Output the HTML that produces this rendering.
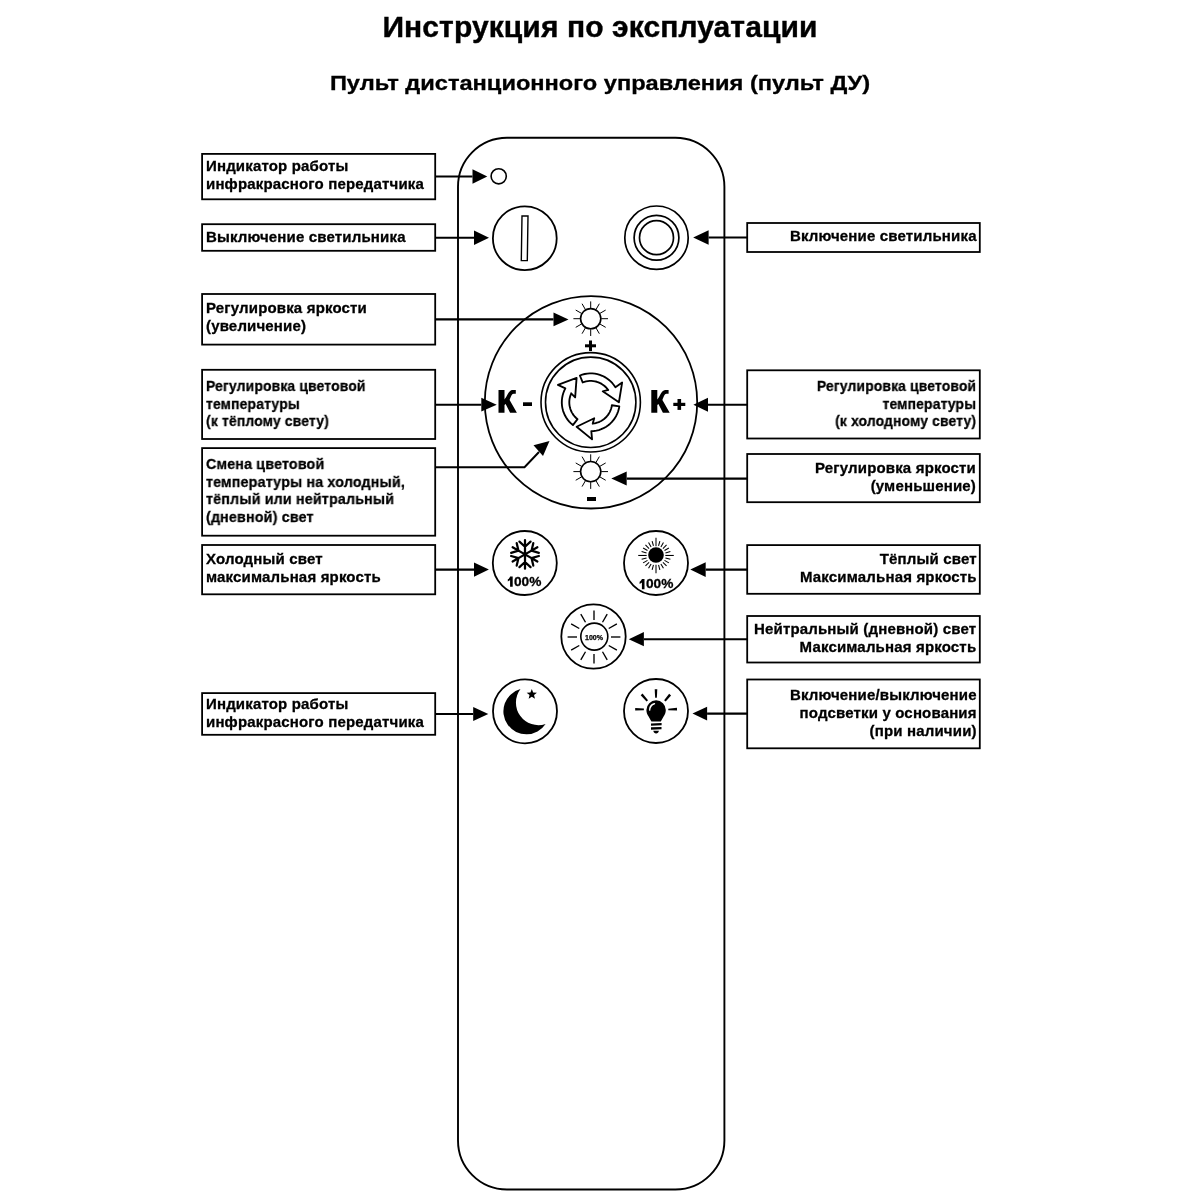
<!DOCTYPE html>
<html><head><meta charset="utf-8"><style>
html,body{margin:0;padding:0;background:#fff;width:1200px;height:1200px;overflow:hidden}
.t{position:absolute;will-change:transform;font-family:"Liberation Sans",sans-serif;font-weight:bold;color:#000;white-space:nowrap}
.c{left:0;width:1200px;text-align:center}
svg{position:absolute;left:0;top:0}
</style></head><body>
<svg width="1200" height="1200" viewBox="0 0 1200 1200">
<rect x="458" y="137.8" width="266.4" height="1051.7" rx="49" ry="49" stroke="#000" fill="none" stroke-width="1.9"/>
<rect x="202.1" y="153.9" width="233.1" height="45.40" stroke="#000" fill="none" stroke-width="1.8"/>
<rect x="202.1" y="224.2" width="233.1" height="26.60" stroke="#000" fill="none" stroke-width="1.8"/>
<rect x="202.1" y="294.0" width="233.1" height="50.60" stroke="#000" fill="none" stroke-width="1.8"/>
<rect x="202.1" y="369.8" width="233.1" height="69.20" stroke="#000" fill="none" stroke-width="1.8"/>
<rect x="202.1" y="448.1" width="233.1" height="87.60" stroke="#000" fill="none" stroke-width="1.8"/>
<rect x="202.1" y="545.0" width="233.1" height="49.30" stroke="#000" fill="none" stroke-width="1.8"/>
<rect x="202.1" y="693.1" width="233.1" height="41.70" stroke="#000" fill="none" stroke-width="1.8"/>
<rect x="747.2" y="223.0" width="232.6" height="29.00" stroke="#000" fill="none" stroke-width="1.8"/>
<rect x="747.2" y="370.3" width="232.6" height="68.20" stroke="#000" fill="none" stroke-width="1.8"/>
<rect x="747.2" y="454.0" width="232.6" height="48.20" stroke="#000" fill="none" stroke-width="1.8"/>
<rect x="747.2" y="545.1" width="232.6" height="48.70" stroke="#000" fill="none" stroke-width="1.8"/>
<rect x="747.2" y="616.0" width="232.6" height="46.50" stroke="#000" fill="none" stroke-width="1.8"/>
<rect x="747.2" y="679.5" width="232.6" height="68.80" stroke="#000" fill="none" stroke-width="1.8"/>
<line x1="435.2" y1="176.5" x2="472.5" y2="176.5" stroke="#000" stroke-width="2.1"/><polygon points="472.5,169.30 487.3,176.5 472.5,183.70" fill="#000"/>
<line x1="435.2" y1="237.7" x2="474" y2="237.7" stroke="#000" stroke-width="2.1"/><polygon points="474,230.50 489,237.7 474,244.90" fill="#000"/>
<line x1="747.2" y1="237.5" x2="708.6" y2="237.5" stroke="#000" stroke-width="2.1"/><polygon points="708.6,230.30 693.2,237.5 708.6,244.70" fill="#000"/>
<line x1="435.2" y1="319.4" x2="553.5" y2="319.4" stroke="#000" stroke-width="2.1"/><polygon points="553.5,312.50 568.5,319.4 553.5,326.30" fill="#000"/>
<line x1="435.2" y1="404.7" x2="481.3" y2="404.7" stroke="#000" stroke-width="2.1"/><polygon points="481.3,397.80 496.7,404.7 481.3,411.60" fill="#000"/>
<line x1="747.2" y1="404.7" x2="708" y2="404.7" stroke="#000" stroke-width="2.1"/><polygon points="708,397.70 693.4,404.7 708,411.70" fill="#000"/>
<line x1="747.2" y1="478.6" x2="626.7" y2="478.6" stroke="#000" stroke-width="2.1"/><polygon points="626.7,471.60 611.3,478.6 626.7,485.60" fill="#000"/>
<line x1="435.2" y1="569.6" x2="474" y2="569.6" stroke="#000" stroke-width="2.1"/><polygon points="474,562.50 488.9,569.6 474,576.70" fill="#000"/>
<line x1="747.2" y1="569.6" x2="705.7" y2="569.6" stroke="#000" stroke-width="2.1"/><polygon points="705.7,562.20 690.3,569.6 705.7,577.00" fill="#000"/>
<line x1="747.2" y1="639.2" x2="643.9" y2="639.2" stroke="#000" stroke-width="2.1"/><polygon points="643.9,632.10 628.8,639.2 643.9,646.30" fill="#000"/>
<line x1="435.2" y1="714" x2="473.2" y2="714" stroke="#000" stroke-width="2.1"/><polygon points="473.2,707.00 488.3,714 473.2,721.00" fill="#000"/>
<line x1="747.2" y1="713.6" x2="707.1" y2="713.6" stroke="#000" stroke-width="2.1"/><polygon points="707.1,706.80 692.5,713.6 707.1,720.40" fill="#000"/>
<polyline points="435.2,467.3 524.5,467.3 539,452" stroke="#000" stroke-width="2" fill="none"/>
<polygon points="533.5,445.2 549.5,441 543,456" fill="#000"/>
<circle cx="498.7" cy="176.3" r="7.6" stroke="#000" fill="none" stroke-width="1.6"/>
<circle cx="524.8" cy="238.2" r="31.9" stroke="#000" fill="none" stroke-width="1.8"/>
<polygon points="522,216 528,216 527.3,260.6 521.3,260.6" stroke="#000" fill="none" stroke-width="1.4"/>
<circle cx="656.5" cy="237.7" r="31.7" stroke="#000" fill="none" stroke-width="1.7"/>
<circle cx="656.5" cy="237.7" r="22.4" stroke="#000" fill="none" stroke-width="1.7"/>
<circle cx="656.5" cy="237.7" r="17.0" stroke="#000" fill="none" stroke-width="1.7"/>
<circle cx="591" cy="402.3" r="106.2" stroke="#000" fill="none" stroke-width="1.8"/>
<circle cx="590.7" cy="318.7" r="10.1" stroke="#000" fill="none" stroke-width="1.6"/><line x1="601.20" y1="318.70" x2="608.00" y2="318.70" stroke="#000" stroke-width="1.0"/><line x1="599.79" y1="323.95" x2="605.68" y2="327.35" stroke="#000" stroke-width="1.0"/><line x1="595.95" y1="327.79" x2="599.35" y2="333.68" stroke="#000" stroke-width="1.0"/><line x1="590.70" y1="329.20" x2="590.70" y2="336.00" stroke="#000" stroke-width="1.0"/><line x1="585.45" y1="327.79" x2="582.05" y2="333.68" stroke="#000" stroke-width="1.0"/><line x1="581.61" y1="323.95" x2="575.72" y2="327.35" stroke="#000" stroke-width="1.0"/><line x1="580.20" y1="318.70" x2="573.40" y2="318.70" stroke="#000" stroke-width="1.0"/><line x1="581.61" y1="313.45" x2="575.72" y2="310.05" stroke="#000" stroke-width="1.0"/><line x1="585.45" y1="309.61" x2="582.05" y2="303.72" stroke="#000" stroke-width="1.0"/><line x1="590.70" y1="308.20" x2="590.70" y2="301.40" stroke="#000" stroke-width="1.0"/><line x1="595.95" y1="309.61" x2="599.35" y2="303.72" stroke="#000" stroke-width="1.0"/><line x1="599.79" y1="313.45" x2="605.68" y2="310.05" stroke="#000" stroke-width="1.0"/>
<circle cx="590.7" cy="471.6" r="10.1" stroke="#000" fill="none" stroke-width="1.6"/><line x1="601.20" y1="471.60" x2="608.00" y2="471.60" stroke="#000" stroke-width="1.0"/><line x1="599.79" y1="476.85" x2="605.68" y2="480.25" stroke="#000" stroke-width="1.0"/><line x1="595.95" y1="480.69" x2="599.35" y2="486.58" stroke="#000" stroke-width="1.0"/><line x1="590.70" y1="482.10" x2="590.70" y2="488.90" stroke="#000" stroke-width="1.0"/><line x1="585.45" y1="480.69" x2="582.05" y2="486.58" stroke="#000" stroke-width="1.0"/><line x1="581.61" y1="476.85" x2="575.72" y2="480.25" stroke="#000" stroke-width="1.0"/><line x1="580.20" y1="471.60" x2="573.40" y2="471.60" stroke="#000" stroke-width="1.0"/><line x1="581.61" y1="466.35" x2="575.72" y2="462.95" stroke="#000" stroke-width="1.0"/><line x1="585.45" y1="462.51" x2="582.05" y2="456.62" stroke="#000" stroke-width="1.0"/><line x1="590.70" y1="461.10" x2="590.70" y2="454.30" stroke="#000" stroke-width="1.0"/><line x1="595.95" y1="462.51" x2="599.35" y2="456.62" stroke="#000" stroke-width="1.0"/><line x1="599.79" y1="466.35" x2="605.68" y2="462.95" stroke="#000" stroke-width="1.0"/>
<rect x="585" y="344.3" width="11" height="3" fill="#000"/><rect x="589" y="340.5" width="3" height="10.5" fill="#000"/>
<rect x="587" y="497" width="9" height="4" fill="#000"/>
<rect x="523" y="402.3" width="9" height="3.7" fill="#000"/>
<rect x="673.3" y="402.8" width="12" height="3.2" fill="#000"/><rect x="677.5" y="399" width="3.6" height="10.9" fill="#000"/>
<path d="M498.5,390 L504.5,390 L504.5,399.4 C506.6,397.6 508.6,390.2 512.3,390 L515.8,390 L515.8,393.7 L513.6,393.7 C511.6,393.9 510.9,396.8 509.6,400 L516.9,412.8 L510.1,412.8 L505.6,404 L504.5,405 L504.5,412.8 L498.5,412.8 Z" fill="#000"/>
<path d="M498.5,390 L504.5,390 L504.5,399.4 C506.6,397.6 508.6,390.2 512.3,390 L515.8,390 L515.8,393.7 L513.6,393.7 C511.6,393.9 510.9,396.8 509.6,400 L516.9,412.8 L510.1,412.8 L505.6,404 L504.5,405 L504.5,412.8 L498.5,412.8 Z" fill="#000" transform="translate(152.8,0)"/>
<circle cx="590.7" cy="402.3" r="49.7" stroke="#000" fill="none" stroke-width="1.6"/>
<circle cx="590.7" cy="402.3" r="45.2" stroke="#000" fill="none" stroke-width="1.6"/>
<path d="M579.87,375.50 L582.27,374.66 L584.74,374.02 L587.25,373.61 L589.79,373.41 L592.34,373.45 L594.87,373.70 L597.37,374.18 L599.82,374.88 L602.20,375.79 L604.49,376.90 L606.67,378.21 L608.73,379.71 L610.65,381.39 L612.41,383.23 L614.01,385.21 L615.42,387.33 L622.13,382.59 L618.90,402.30 L602.72,391.29 L608.27,389.91 L608.19,389.96 L607.09,388.54 L605.88,387.22 L604.57,386.00 L603.16,384.90 L601.66,383.92 L600.08,383.07 L598.44,382.35 L596.74,381.77 L595.00,381.34 L593.23,381.05 L591.45,380.91 L589.65,380.93 L587.87,381.09 L586.10,381.40 L584.37,381.86 L582.68,382.46 Z" fill="#fff" stroke="#000" stroke-width="1.85" stroke-linejoin="round"/>
<path d="M619.32,406.32 L618.85,408.83 L618.17,411.28 L617.27,413.66 L616.17,415.96 L614.87,418.15 L613.38,420.21 L611.72,422.14 L609.89,423.91 L607.91,425.52 L605.80,426.94 L603.57,428.17 L601.24,429.21 L598.84,430.03 L596.36,430.64 L593.85,431.03 L591.31,431.19 L592.06,439.38 L576.60,426.72 L594.23,418.21 L592.65,423.71 L592.64,423.61 L594.42,423.37 L596.17,422.99 L597.88,422.46 L599.54,421.79 L601.14,420.98 L602.67,420.04 L604.11,418.98 L605.46,417.80 L606.70,416.51 L607.84,415.12 L608.85,413.64 L609.73,412.08 L610.49,410.45 L611.10,408.77 L611.57,407.04 L611.89,405.28 Z" fill="#fff" stroke="#000" stroke-width="1.85" stroke-linejoin="round"/>
<path d="M572.91,425.07 L570.97,423.42 L569.19,421.60 L567.57,419.63 L566.14,417.53 L564.89,415.31 L563.85,412.99 L563.01,410.58 L562.39,408.11 L561.99,405.60 L561.81,403.06 L561.86,400.51 L562.12,397.98 L562.62,395.48 L563.33,393.03 L564.25,390.66 L565.37,388.38 L557.91,384.94 L576.60,377.88 L575.15,397.40 L571.18,393.28 L571.27,393.32 L570.59,394.98 L570.05,396.69 L569.65,398.44 L569.40,400.21 L569.30,402.00 L569.35,403.79 L569.55,405.57 L569.90,407.33 L570.39,409.05 L571.03,410.73 L571.80,412.35 L572.71,413.89 L573.75,415.36 L574.90,416.73 L576.16,418.00 L577.52,419.16 Z" fill="#fff" stroke="#000" stroke-width="1.85" stroke-linejoin="round"/>
<circle cx="524.8" cy="563" r="32" stroke="#000" fill="none" stroke-width="1.8"/>
<path d="M525,554.4 L525.00,540.10 M525.00,546.80 L519.44,541.62 M525.00,546.80 L530.56,541.62 M525,554.4 L537.38,547.25 M531.58,550.60 L533.29,543.19 M531.58,550.60 L538.85,552.82 M525,554.4 L537.38,561.55 M531.58,558.20 L538.85,555.98 M531.58,558.20 L533.29,565.61 M525,554.4 L525.00,568.70 M525.00,562.00 L530.56,567.18 M525.00,562.00 L519.44,567.18 M525,554.4 L512.62,561.55 M518.42,558.20 L516.71,565.61 M518.42,558.20 L511.15,555.98 M525,554.4 L512.62,547.25 M518.42,550.60 L511.15,552.82 M518.42,550.60 L516.71,543.19 " stroke="#000" stroke-width="2.25" stroke-linecap="round" fill="none"/>
<circle cx="656" cy="563" r="32" stroke="#000" fill="none" stroke-width="1.8"/>
<circle cx="656" cy="555" r="7.8" fill="#000"/>
<line x1="665.30" y1="555.45" x2="673.80" y2="555.45" stroke="#000" stroke-width="1.05"/>
<line x1="665.47" y1="557.99" x2="670.39" y2="559.31" stroke="#000" stroke-width="1.05"/>
<line x1="664.49" y1="560.35" x2="668.90" y2="562.90" stroke="#000" stroke-width="1.05"/>
<line x1="662.93" y1="562.38" x2="666.54" y2="565.99" stroke="#000" stroke-width="1.05"/>
<line x1="660.90" y1="563.94" x2="663.45" y2="568.35" stroke="#000" stroke-width="1.05"/>
<line x1="658.54" y1="564.92" x2="659.86" y2="569.84" stroke="#000" stroke-width="1.05"/>
<line x1="656.00" y1="564.75" x2="656.00" y2="573.25" stroke="#000" stroke-width="1.05"/>
<line x1="653.46" y1="564.92" x2="652.14" y2="569.84" stroke="#000" stroke-width="1.05"/>
<line x1="651.10" y1="563.94" x2="648.55" y2="568.35" stroke="#000" stroke-width="1.05"/>
<line x1="649.07" y1="562.38" x2="645.46" y2="565.99" stroke="#000" stroke-width="1.05"/>
<line x1="647.51" y1="560.35" x2="643.10" y2="562.90" stroke="#000" stroke-width="1.05"/>
<line x1="646.53" y1="557.99" x2="641.61" y2="559.31" stroke="#000" stroke-width="1.05"/>
<line x1="646.70" y1="555.45" x2="638.20" y2="555.45" stroke="#000" stroke-width="1.05"/>
<line x1="646.53" y1="552.91" x2="641.61" y2="551.59" stroke="#000" stroke-width="1.05"/>
<line x1="647.51" y1="550.55" x2="643.10" y2="548.00" stroke="#000" stroke-width="1.05"/>
<line x1="649.07" y1="548.52" x2="645.46" y2="544.91" stroke="#000" stroke-width="1.05"/>
<line x1="651.10" y1="546.96" x2="648.55" y2="542.55" stroke="#000" stroke-width="1.05"/>
<line x1="653.46" y1="545.98" x2="652.14" y2="541.06" stroke="#000" stroke-width="1.05"/>
<line x1="656.00" y1="546.15" x2="656.00" y2="537.65" stroke="#000" stroke-width="1.05"/>
<line x1="658.54" y1="545.98" x2="659.86" y2="541.06" stroke="#000" stroke-width="1.05"/>
<line x1="660.90" y1="546.96" x2="663.45" y2="542.55" stroke="#000" stroke-width="1.05"/>
<line x1="662.93" y1="548.52" x2="666.54" y2="544.91" stroke="#000" stroke-width="1.05"/>
<line x1="664.49" y1="550.55" x2="668.90" y2="548.00" stroke="#000" stroke-width="1.05"/>
<line x1="665.47" y1="552.91" x2="670.39" y2="551.59" stroke="#000" stroke-width="1.05"/>
<path d="M510.1,576.6 L512.7,576.6 L512.7,586.7 L510.1,586.7 L510.1,579.9 C509.5,580.5 508.6,581.1 507.8,581.4 L507.8,579.3 C508.9,578.8 509.8,577.8 510.1,576.6 Z" fill="#000"/>
<path d="M510.1,576.6 L512.7,576.6 L512.7,586.7 L510.1,586.7 L510.1,579.9 C509.5,580.5 508.6,581.1 507.8,581.4 L507.8,579.3 C508.9,578.8 509.8,577.8 510.1,576.6 Z" fill="#000" transform="translate(131.8,2.5)"/>
<circle cx="593.5" cy="636.5" r="32.2" stroke="#000" fill="none" stroke-width="1.8"/>
<circle cx="594.3" cy="636.6" r="13.5" stroke="#000" fill="none" stroke-width="1.6"/>
<line x1="611.00" y1="637.00" x2="620.40" y2="637.00" stroke="#000" stroke-width="1.35"/>
<line x1="608.72" y1="645.50" x2="616.86" y2="650.20" stroke="#000" stroke-width="1.35"/>
<line x1="602.50" y1="651.72" x2="607.20" y2="659.86" stroke="#000" stroke-width="1.35"/>
<line x1="594.00" y1="654.00" x2="594.00" y2="663.40" stroke="#000" stroke-width="1.35"/>
<line x1="585.50" y1="651.72" x2="580.80" y2="659.86" stroke="#000" stroke-width="1.35"/>
<line x1="579.28" y1="645.50" x2="571.14" y2="650.20" stroke="#000" stroke-width="1.35"/>
<line x1="577.00" y1="637.00" x2="567.60" y2="637.00" stroke="#000" stroke-width="1.35"/>
<line x1="579.28" y1="628.50" x2="571.14" y2="623.80" stroke="#000" stroke-width="1.35"/>
<line x1="585.50" y1="622.28" x2="580.80" y2="614.14" stroke="#000" stroke-width="1.35"/>
<line x1="594.00" y1="620.00" x2="594.00" y2="610.60" stroke="#000" stroke-width="1.35"/>
<line x1="602.50" y1="622.28" x2="607.20" y2="614.14" stroke="#000" stroke-width="1.35"/>
<line x1="608.72" y1="628.50" x2="616.86" y2="623.80" stroke="#000" stroke-width="1.35"/>
<circle cx="525" cy="711.3" r="32" stroke="#000" fill="none" stroke-width="1.8"/>
<path d="M520.5,689.1 A23,23 0 1,0 545.6,724 A22.5,22.5 0 0,1 520.5,689.1 Z" fill="#000"/>
<polygon points="531.80,688.90 533.18,692.40 536.94,692.63 534.03,695.03 534.97,698.67 531.80,696.65 528.63,698.67 529.57,695.03 526.66,692.63 530.42,692.40" fill="#000"/>
<circle cx="656" cy="711" r="32" stroke="#000" fill="none" stroke-width="1.8"/>
<path d="M651.4,721.6 L648.6,716.6 C647.2,714.4 646.4,712.6 646.4,710 A9.7,9.7 0 0 1 665.8,710 C665.8,712.6 665,714.4 663.6,716.6 L660.8,721.6 Z" fill="#000"/>
<path d="M649.2,710.8 C648.6,706.5 650.9,703.3 654.9,702.9 C655.4,703.3 655.2,703.9 654.6,704.4 C651.9,705.1 650.5,707.5 650.2,710.8 Z" fill="#fff"/>
<polygon points="651,723.4 661.6,722.9 661.6,725.3 651,725.7" fill="#000"/><polygon points="651,727.3 661.5,726.9 661.5,729.3 651,729.7" fill="#000"/>
<path d="M653.3,730.8 L658.9,730.8 C658.5,732.6 657.6,733.6 656.1,733.6 C654.6,733.6 653.7,732.6 653.3,730.8 Z" fill="#000"/>
<polygon points="654.70,689.30 655.15,697.70 656.85,697.70 657.30,689.30" fill="#000"/>
<polygon points="640.67,695.23 646.55,701.47 648.05,700.13 642.53,693.57" fill="#000"/>
<polygon points="669.14,693.80 664.13,700.16 665.67,701.44 671.06,695.40" fill="#000"/>
<polygon points="635.19,710.60 643.89,710.20 643.91,708.60 635.21,708.00" fill="#000"/>
<polygon points="676.94,707.80 668.26,708.70 668.34,710.30 677.06,710.40" fill="#000"/>
</svg>
<div class="t" style="left:206.3px;top:157.0px;line-height:17.6px;font-size:15px;letter-spacing:0.17px;-webkit-text-stroke:0.3px #000;">Индикатор работы<br>инфракрасного передатчика</div>
<div class="t" style="left:206.3px;top:227.7px;line-height:17.6px;font-size:15px;letter-spacing:0.17px;-webkit-text-stroke:0.3px #000;">Выключение светильника</div>
<div class="t" style="left:206.3px;top:299.0px;line-height:17.6px;font-size:15px;letter-spacing:0.17px;-webkit-text-stroke:0.3px #000;">Регулировка яркости<br>(увеличение)</div>
<div class="t" style="left:206.3px;top:376.5px;line-height:17.6px;font-size:15px;letter-spacing:0.17px;-webkit-text-stroke:0.3px #000;transform:scaleX(0.927);transform-origin:0 0;">Регулировка цветовой<br>температуры<br>(к тёплому свету)</div>
<div class="t" style="left:206.3px;top:455.0px;line-height:17.6px;font-size:15px;letter-spacing:0.17px;-webkit-text-stroke:0.3px #000;transform:scaleX(0.952);transform-origin:0 0;">Смена цветовой<br>температуры на холодный,<br>тёплый или нейтральный<br>(дневной) свет</div>
<div class="t" style="left:206.3px;top:549.7px;line-height:17.6px;font-size:15px;letter-spacing:0.17px;-webkit-text-stroke:0.3px #000;">Холодный свет<br>максимальная яркость</div>
<div class="t" style="left:206.3px;top:694.75px;line-height:17.6px;font-size:15px;letter-spacing:0.17px;-webkit-text-stroke:0.3px #000;">Индикатор работы<br>инфракрасного передатчика</div>
<div class="t" style="right:223.60000000000002px;top:226.6px;line-height:17.6px;font-size:15px;letter-spacing:0.17px;text-align:right;-webkit-text-stroke:0.3px #000;">Включение светильника</div>
<div class="t" style="right:223.60000000000002px;top:377.4px;line-height:17.6px;font-size:15px;letter-spacing:0.17px;text-align:right;-webkit-text-stroke:0.3px #000;transform:scaleX(0.925);transform-origin:100% 0;">Регулировка цветовой<br>температуры<br>(к холодному свету)</div>
<div class="t" style="right:223.60000000000002px;top:458.5px;line-height:17.6px;font-size:15px;letter-spacing:0.17px;text-align:right;-webkit-text-stroke:0.3px #000;">Регулировка яркости<br>(уменьшение)</div>
<div class="t" style="right:223.60000000000002px;top:549.7px;line-height:17.6px;font-size:15px;letter-spacing:0.17px;text-align:right;-webkit-text-stroke:0.3px #000;">Тёплый свет<br>Максимальная яркость</div>
<div class="t" style="right:223.60000000000002px;top:619.9px;line-height:17.6px;font-size:15px;letter-spacing:0.17px;text-align:right;-webkit-text-stroke:0.3px #000;">Нейтральный (дневной) свет<br>Максимальная яркость</div>
<div class="t" style="right:223.60000000000002px;top:685.9px;line-height:17.8px;font-size:15px;letter-spacing:0.17px;text-align:right;-webkit-text-stroke:0.3px #000;">Включение/выключение<br>подсветки у основания<br>(при наличии)</div>
<div class="t c" style="top:6.5px;font-size:30px;line-height:40px;letter-spacing:0.1px;-webkit-text-stroke:0.4px #000">Инструкция по эксплуатации</div>
<div class="t c" style="top:68.5px;font-size:20.5px;line-height:28px;-webkit-text-stroke:0.3px #000;transform:scaleX(1.152);transform-origin:600px 0">Пульт дистанционного управления (пульт ДУ)</div>
<div class="t" style="left:514.12px;top:572.5px;font-size:13.7px;line-height:18px;-webkit-text-stroke:0.3px #000">00%</div>
<div class="t" style="left:645.92px;top:575px;font-size:13.7px;line-height:18px;-webkit-text-stroke:0.3px #000">00%</div>
<div class="t" style="left:584.5px;top:633px;font-size:7px;line-height:10px;-webkit-text-stroke:0.25px #000">100%</div>
</body></html>
